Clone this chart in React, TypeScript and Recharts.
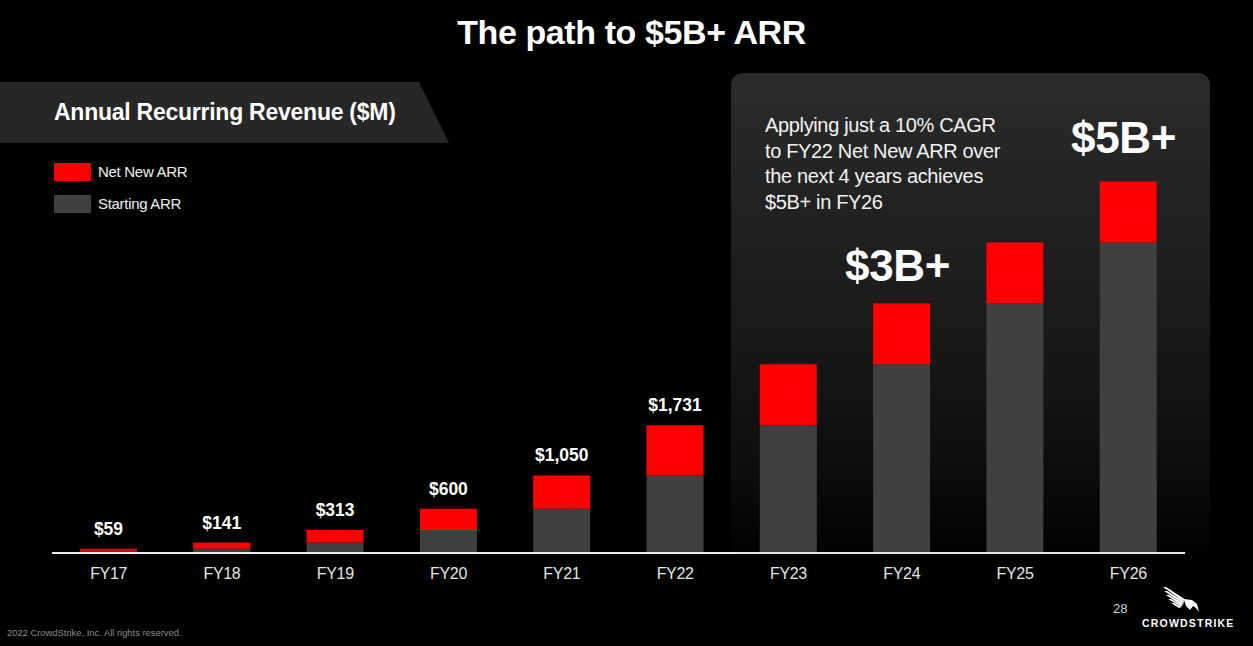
import React from 'react';
import { BarChart, Bar, XAxis, YAxis, LabelList } from 'recharts';

const categories = ['FY17', 'FY18', 'FY19', 'FY20', 'FY21', 'FY22', 'FY23', 'FY24', 'FY25', 'FY26'];
const startingArr = [31, 59, 141, 313, 600, 1050, 1731, 2556, 3381, 4206];
const netNewArr = [28, 82, 172, 287, 450, 681, 825, 825, 825, 825];
const barLabels = ['$59', '$141', '$313', '$600', '$1,050', '$1,731', '', '', '', ''];
const yDomain = [0, 6000];

const data = categories.map((name, i) => ({
  name,
  starting: startingArr[i],
  netNew: netNewArr[i],
  label: barLabels[i],
}));

const FONT = '"Liberation Sans", Arial, Helvetica, sans-serif';

const abs = (style: React.CSSProperties): React.CSSProperties => ({
  position: 'absolute',
  whiteSpace: 'nowrap',
  fontFamily: FONT,
  lineHeight: 1,
  ...style,
});

export default function App() {
  return (
    <div
      style={{
        position: 'absolute',
        left: 0,
        top: 0,
        width: 1253,
        height: 646,
        background: '#000',
        overflow: 'hidden',
        fontFamily: FONT,
      }}
    >
      {/* projection panel */}
      <div
        style={{
          position: 'absolute',
          left: 731,
          top: 73,
          width: 479,
          height: 490,
          borderRadius: 12,
          background: 'linear-gradient(180deg, #2b2b2b 0%, #1c1c1c 45%, #0d0d0d 80%, #000 100%)',
        }}
      />

      {/* banner + decorations */}
      <svg width={1253} height={646} style={{ position: 'absolute', left: 0, top: 0 }}>
        <polygon points="0,82 419,82 449,143 0,143" fill="#272727" />
        <rect x={54} y={163} width={37} height={18} fill="#ff0000" />
        <rect x={54} y={195} width={37} height={18} fill="#404040" />
        {/* falcon mark */}
        <g fill="#fff">
          <polygon points="1163,587 1166,587 1186,600 1183,601" />
          <polygon points="1164,591 1167,591 1185,602 1182,603" />
          <polygon points="1166,595 1169,595 1184,604 1181,605" />
          <polygon points="1168,599 1171,599 1183,606 1180,606" />
          <polygon points="1171,603 1174,603 1182,607 1179,608" />
          <polygon points="1184,599 1192,600 1197,604 1199,612 1196,608 1193,606 1190,610 1186,606" />
        </g>
      </svg>

      <div style={{ position: 'absolute', left: 0, top: 0 }}>
        <BarChart
          width={1253}
          height={646}
          data={data}
          margin={{ top: 110, right: 68, bottom: 63, left: 52 }}
          barSize={57}
        >
          <XAxis
            dataKey="name"
            axisLine={{ stroke: '#e8e8e8', strokeWidth: 2 }}
            tickLine={false}
            tick={{ fill: '#e6e6e6', fontSize: 16, fontFamily: FONT, letterSpacing: -0.3 }}
            tickMargin={9}
            interval={0}
            height={30}
          />
          <YAxis hide domain={yDomain} />
          <Bar dataKey="starting" stackId="a" fill="#404040" isAnimationActive={false} />
          <Bar dataKey="netNew" stackId="a" fill="#ff0000" isAnimationActive={false}>
            <LabelList
              dataKey="label"
              position="top"
              offset={14}
              fill="#ffffff"
              fontSize={17.5}
              fontWeight={700}
              fontFamily={FONT}
            />
          </Bar>
        </BarChart>
      </div>

      {/* title */}
      <div
        style={abs({
          left: 0,
          width: 1263,
          top: 15,
          textAlign: 'center',
          color: '#fff',
          fontSize: 34,
          fontWeight: 700,
          letterSpacing: -0.4,
        })}
      >
        The path to $5B+ ARR
      </div>

      {/* banner text */}
      <div style={abs({ left: 54, top: 101, color: '#fff', fontSize: 23, fontWeight: 700, letterSpacing: -0.25 })}>
        Annual Recurring Revenue ($M)
      </div>

      {/* legend */}
      <div style={abs({ left: 98, top: 164, color: '#f0f0f0', fontSize: 15, letterSpacing: -0.3 })}>Net New ARR</div>
      <div style={abs({ left: 98, top: 196, color: '#f0f0f0', fontSize: 15, letterSpacing: -0.3 })}>Starting ARR</div>

      {/* panel text */}
      <div
        style={{
          position: 'absolute',
          left: 765,
          top: 113,
          color: '#f2f2f2',
          fontSize: 20,
          lineHeight: '25.5px',
          letterSpacing: -0.35,
          fontFamily: FONT,
          whiteSpace: 'nowrap',
        }}
      >
        Applying just a 10% CAGR
        <br />
        to FY22 Net New ARR over
        <br />
        the next 4 years achieves
        <br />
        $5B+ in FY26
      </div>

      <div style={abs({ left: 1071, top: 116, color: '#fff', fontSize: 44, fontWeight: 700, letterSpacing: -0.3 })}>$5B+</div>
      <div style={abs({ left: 845, top: 244, color: '#fff', fontSize: 44, fontWeight: 700, letterSpacing: -0.3 })}>$3B+</div>

      {/* footer */}
      <div style={abs({ left: 7, top: 628, color: '#8c8c8c', fontSize: 9.4 })}>2022 CrowdStrike, Inc. All rights reserved.</div>
      <div style={abs({ left: 1113, top: 602, color: '#cfd4da', fontSize: 13 })}>28</div>
      <div style={abs({ left: 1142, top: 618, color: '#fff', fontSize: 10.5, fontWeight: 700, letterSpacing: 1.2 })}>CROWDSTRIKE</div>
    </div>
  );
}
